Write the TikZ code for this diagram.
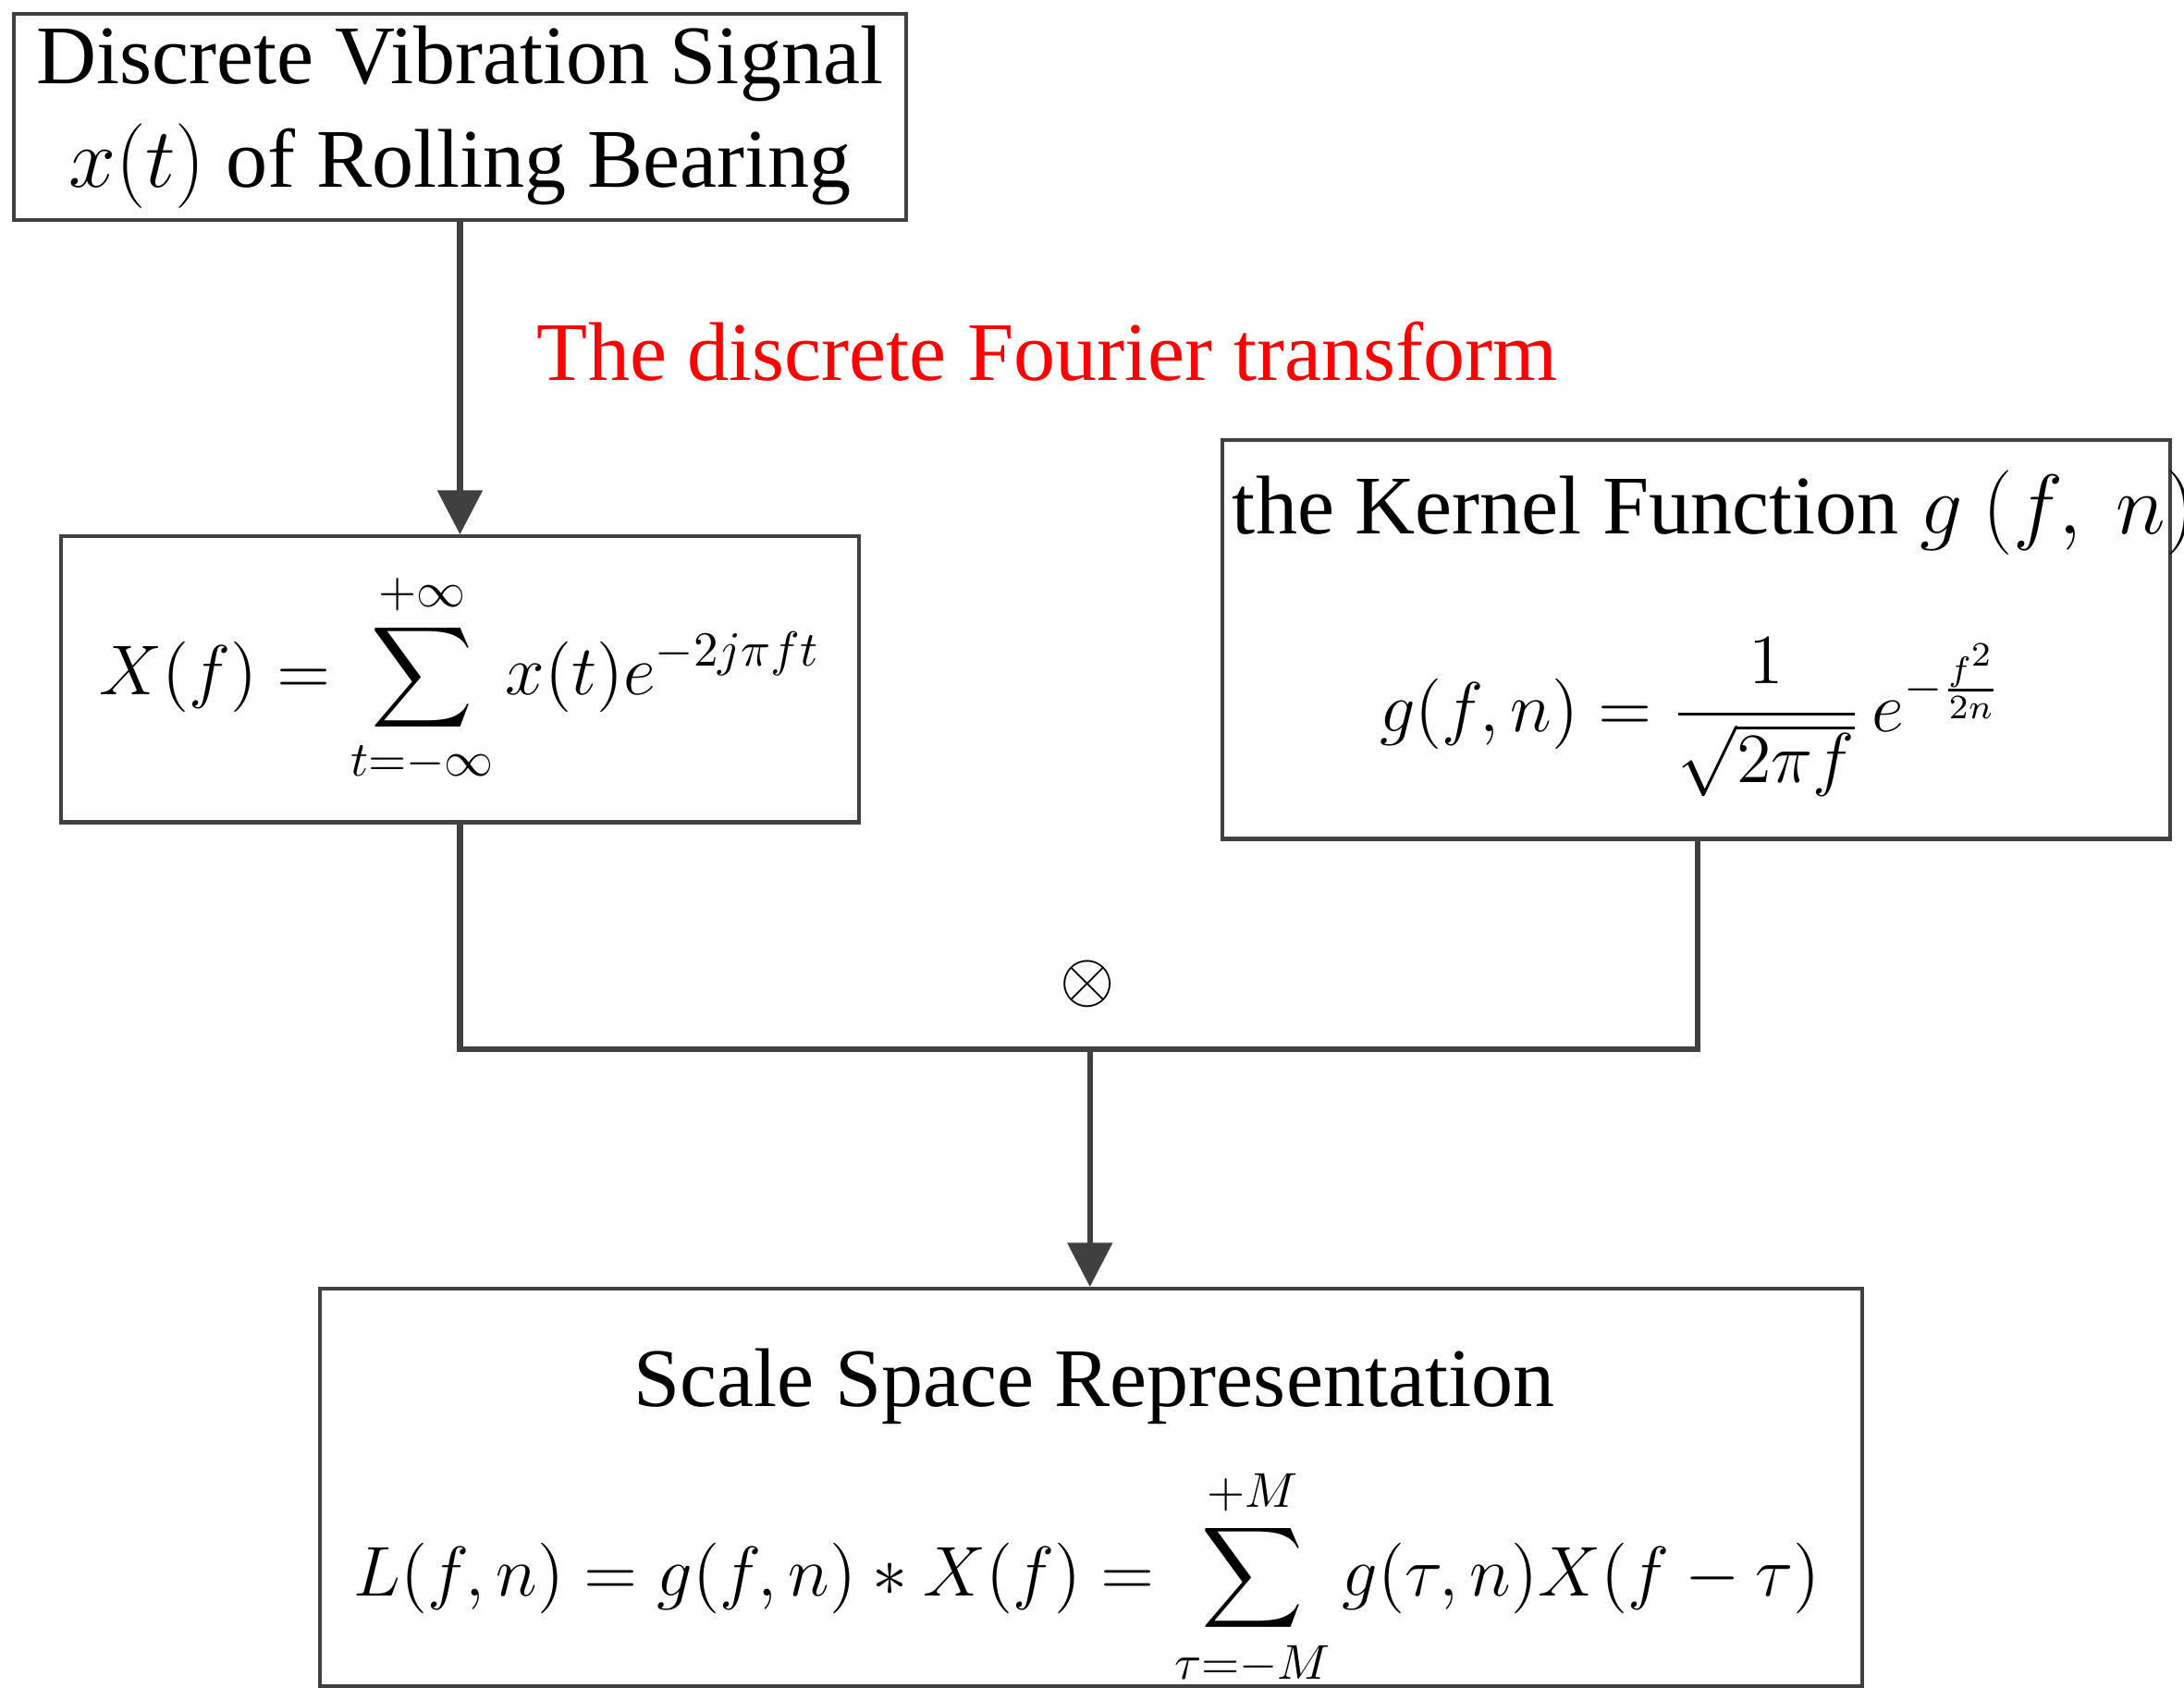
\documentclass[tikz,border=0pt]{standalone}
\usepackage{amsmath}
\usepackage{fontspec}
\setmainfont{Liberation Serif}
\usetikzlibrary{arrows.meta}
\begin{document}
\begin{tikzpicture}[x=0.01cm,y=-0.01cm,
  box/.style={draw=black!75,line width=0.8pt,inner sep=0pt},
  ln/.style={draw=black!75,line width=1.2pt},
  arr/.style={ln,-{Triangle[length=9pt,width=9pt]}},
  every node/.style={font=\fontsize{17}{21}\selectfont}]
\useasboundingbox (0,0) rectangle (1567,1220);
\node[box,minimum width=6.40cm,minimum height=1.48cm,align=center] (a) at (330,84)
  {Discrete Vibration Signal\\ $x(t)$ of Rolling Bearing};
\node[box,minimum width=5.72cm,minimum height=2.05cm] (b) at (330,487.5)
  {\Large $\displaystyle X(f)=\sum_{t=-\infty}^{+\infty} x(t)e^{-2j\pi f t}$};
\node[box,minimum width=6.80cm,minimum height=2.86cm] (c) at (1217,459) {};
\node at (1230,368) (ct) {the Kernel Function $g\ (f,\ n)$};
\node at (1213,515) (cf) {\Large $\displaystyle g(f,n)=\frac{1}{\sqrt{2\pi f}}\,e^{-\frac{f^2}{2n}}$};
\node[box,minimum width=11.06cm,minimum height=2.85cm] (d) at (783,1067.5) {};
\node at (785,995) (dt) {Scale Space Representation};
\node at (780,1133) (df) {\Large $\displaystyle L(f,n)=g(f,n)*X(f)=\sum_{\tau=-M}^{+M} g(\tau,n)X(f-\tau)$};
\draw[arr] (a.south) -- (b.north);
\node[text=red,anchor=west] (lbl) at (373,252) {The discrete Fourier transform};
\coordinate (j1) at (330,753);
\coordinate (j2) at (1218,753);
\coordinate (jm) at (782,753);
\draw[ln] (b.south) -- (j1) -- (j2) -- (j2 |- c.south);
\draw[arr] (jm) -- (d.north -| jm);
\node (ot) at (780,706) {\Large $\otimes$};
\end{tikzpicture}
\end{document}
